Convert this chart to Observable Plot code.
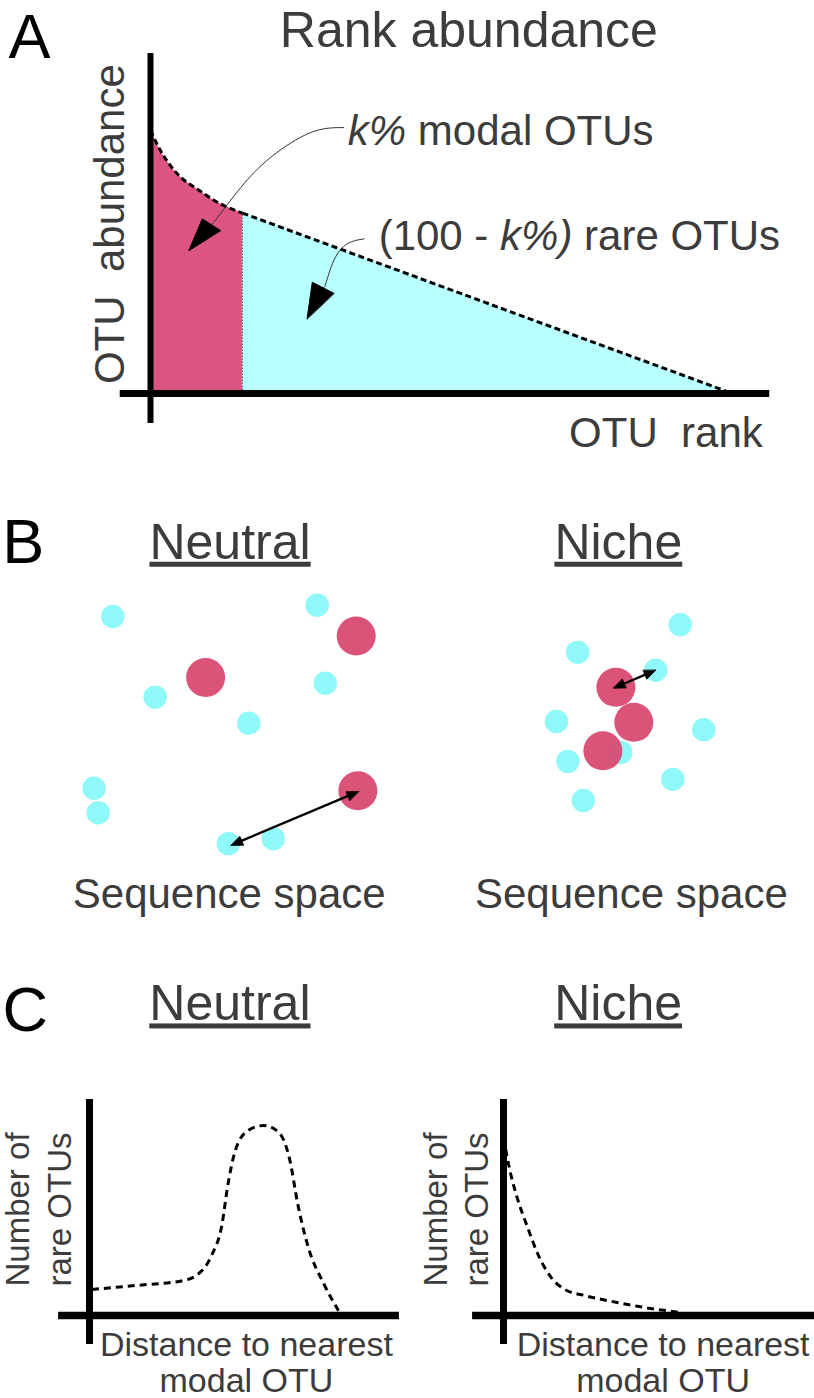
<!DOCTYPE html>
<html>
<head>
<meta charset="utf-8">
<script src="https://cdn.jsdelivr.net/npm/d3@7"></script>
<script src="https://cdn.jsdelivr.net/npm/@observablehq/plot@0.6"></script>
<style>
  body { margin: 0; background: #fff; }
  #fig { position: relative; width: 814px; height: 1398px; overflow: hidden; background: #fff; }
  #fig svg { position: absolute; }
  #fig text { white-space: pre; }
</style>
</head>
<body>
<div id="fig"></div>
<script>
// ---------------- Colours / fonts ----------------
const MAG_A = "#dc5580", CYAN_A = "#b9ffff";
const MAG_B = "#d9466f", CYAN_B = "#8ff8f8";
const INK = "#3c3c3c";
const FONT = "'Liberation Sans', Arial, sans-serif";

// ---------------- Panel A: rank abundance ----------------
const rankA  = [0, 1.7, 3.4, 5.2, 8.0, 11.5, 15.8, 100];        // OTU rank (%)
const abundA = [100, 92.4, 86.7, 82.2, 77.8, 72.7, 68.6, 0];    // OTU abundance (% of max)
const kRank = 15.8;                                              // boundary modal / rare

// annotation arrows (rank, abundance)
const arrowModalRank  = [33.2, 27.5, 20.6, 15.5, 11.5, 10.5];
const arrowModalAbund = [101.1, 99.2, 89.7, 78.3, 66.9, 64.3];
const headModalRank   = [6.6, 8.9, 12.0];
const headModalAbund  = [54.4, 66.4, 62.0];
const arrowRareRank   = [36.7, 33.8, 31.5, 30.1, 29.6];
const arrowRareAbund  = [58.8, 56.9, 50.6, 41.7, 40.2];
const headRareRank    = [26.9, 27.8, 31.5];
const headRareAbund   = [28.4, 42.3, 38.1];

// ---------------- Panel B: sequence space ----------------
const neutralRareX  = [13.8, 38.9, 19.0, 39.9, 30.5, 11.5, 12.0, 28.0, 33.5];
const neutralRareY  = [39.8, 41.2, 29.9, 31.6, 26.7, 18.7, 15.7, 11.9, 12.5];
const neutralModalX = [25.2, 43.7, 43.9];
const neutralModalY = [32.3, 37.4, 18.4];
const nicheRareX    = [83.5, 70.9, 80.5, 68.3, 86.4, 76.2, 69.7, 82.6, 71.6];
const nicheRareY    = [38.8, 35.4, 33.2, 26.9, 25.9, 23.1, 22.0, 19.8, 17.2];
const nicheModalX   = [75.6, 77.8, 74.0];
const nicheModalY   = [31.1, 26.8, 23.3];
const relAbundance  = {modal: 1, rare: 0.36};
// distance arrows: rare OTU -> nearest modal OTU
const distFromX = [28.3, 80.5], distFromY = [11.7, 33.2];
const distToX   = [44.0, 75.3], distToY   = [18.3, 31.0];

// ---------------- Panel C: distance distributions ----------------
const neutralDist  = [0.8, 15.5, 31.2, 36.3, 40.7, 44.2, 46.0, 48.6, 52.9, 58.1, 63.3, 66.8, 69.4, 72.9, 78.1, 83.3];
const neutralCount = [13.7, 15.8, 18.4, 21.9, 31.6, 48.2, 67.5, 86.8, 97.4, 100, 96, 81.6, 58.8, 36, 16.7, 1.7];
const nicheDist    = [0.7, 1.9, 4.5, 8.0, 11.4, 15.8, 20.1, 27.1, 37.5, 47.9, 58.4];
const nicheCount   = [87.7, 78, 62.3, 46.5, 32.5, 20.2, 14, 10.5, 7, 4, 1.7];

// ---------------- helpers ----------------
const zip = (xs, ys, extra = {}) => xs.map((x, i) => ({x, y: ys[i], ...extra}));
function txt(str, x, y, o = {}) {
  return Plot.text([str], {x: () => x, y: () => y, text: d => d, fontFamily: FONT, fill: INK,
    lineAnchor: "bottom", ...o});
}
function doubleArrow(id, fx, fy, tx, ty, len, half) {
  const dx = tx - fx, dy = ty - fy, L = Math.hypot(dx, dy);
  const ux = dx / L, uy = dy / L, px = -uy, py = ux;
  const shaft = [
    {id, x: fx + ux * len * 0.8, y: fy + uy * len * 0.8},
    {id, x: tx - ux * len * 0.8, y: ty - uy * len * 0.8}
  ];
  const heads = [
    {id: id + "t", x: tx, y: ty},
    {id: id + "t", x: tx - ux * len + px * half, y: ty - uy * len + py * half},
    {id: id + "t", x: tx - ux * len - px * half, y: ty - uy * len - py * half},
    {id: id + "f", x: fx, y: fy},
    {id: id + "f", x: fx + ux * len + px * half, y: fy + uy * len + py * half},
    {id: id + "f", x: fx + ux * len - px * half, y: fy + uy * len - py * half}
  ];
  return {shaft, heads};
}
function place(svg, left, top) {
  svg.style.position = "absolute";
  svg.style.left = left + "px";
  svg.style.top = top + "px";
  document.getElementById("fig").appendChild(svg);
  return svg;
}
function richText(svg, full, parts) {
  svg.querySelectorAll("text").forEach(t => {
    if (t.textContent !== full) return;
    t.textContent = "";
    for (const [s, it] of parts) {
      const sp = document.createElementNS("http://www.w3.org/2000/svg", "tspan");
      if (it) sp.setAttribute("font-style", "italic");
      sp.textContent = s;
      t.appendChild(sp);
    }
  });
}
function underline(svg, words) {
  svg.querySelectorAll("text").forEach(t => {
    if (words.includes(t.textContent)) t.style.textDecoration = "underline";
  });
}

// ---------------- Panel A plot ----------------
const curveA = zip(rankA, abundA);
const modalPart = curveA.filter(d => d.x <= kRank);
const rarePart = curveA.filter(d => d.x >= kRank);
const kAbund = abundA[rankA.indexOf(kRank)];
const arrowsA = [...zip(arrowModalRank, arrowModalAbund, {id: "m"}), ...zip(arrowRareRank, arrowRareAbund, {id: "r"})];
const headsA = [...zip(headModalRank, headModalAbund, {id: "m"}), ...zip(headRareRank, headRareAbund, {id: "r"})];

const svgA = Plot.plot({
  width: 814, height: 460,
  marginLeft: 150, marginRight: 82, marginTop: 130, marginBottom: 67,
  x: {domain: [0, 100], axis: null},
  y: {domain: [0, 100], axis: null},
  style: {background: "transparent", overflow: "visible"},
  marks: [
    Plot.areaY(modalPart, {x: "x", y: "y", fill: MAG_A, curve: "monotone-x"}),
    Plot.areaY(rarePart, {x: "x", y: "y", fill: CYAN_A}),
    Plot.ruleX([kRank], {y1: () => 0, y2: () => kAbund, stroke: "#555", strokeWidth: 1, strokeDasharray: "1.5,1.5"}),
    Plot.line(modalPart, {x: "x", y: "y", curve: "monotone-x", stroke: "black", strokeWidth: 3, strokeDasharray: "6,3.5", strokeLinecap: "butt"}),
    Plot.line(rarePart, {x: "x", y: "y", stroke: "black", strokeWidth: 3, strokeDasharray: "6,3.5", strokeLinecap: "butt"}),
    Plot.ruleX([0], {y1: () => -11.4, y2: () => 129.3, stroke: "black", strokeWidth: 6}),
    Plot.ruleY([0], {x1: () => -5.2, x2: () => 106.4, stroke: "black", strokeWidth: 7}),
    Plot.line(arrowsA, {x: "x", y: "y", z: "id", curve: "natural", stroke: "#333", strokeWidth: 1}),
    Plot.line(headsA, {x: "x", y: "y", z: "id", curve: "linear-closed", fill: "black", stroke: "black", strokeWidth: 1}),
    txt("A", -24.4, 127.4, {textAnchor: "start", fontSize: 63, fill: "black"}),
    txt("Rank abundance", 54.7, 131.6, {textAnchor: "middle", fontSize: 50}),
    txt("k% modal OTUs", 33.9, 94.3, {textAnchor: "start", fontSize: 42}),
    txt("(100 - k%) rare OTUs", 39.2, 54.4, {textAnchor: "start", fontSize: 42}),
    txt("OTU  rank", 105.2, -20.5, {textAnchor: "end", fontSize: 42}),
    txt("OTU  abundance", -4.6, 64.4, {textAnchor: "middle", fontSize: 42, rotate: -90})
  ]
});
richText(svgA, "k% modal OTUs", [["k%", true], [" modal OTUs", false]]);
richText(svgA, "(100 - k%) rare OTUs", [["(100 - ", false], ["k%)", true], [" rare OTUs", false]]);
place(svgA, 0, 0);

// ---------------- Panel B plot ----------------
const rareB = [...zip(neutralRareX, neutralRareY), ...zip(nicheRareX, nicheRareY)].map(d => ({...d, a: relAbundance.rare}));
const modalB = [...zip(neutralModalX, neutralModalY), ...zip(nicheModalX, nicheModalY)].map(d => ({...d, a: relAbundance.modal}));
const arrB = distFromX.map((fx, i) => doubleArrow("d" + i, fx, distFromY[i], distToX[i], distToY[i], 1.45, 0.58));

const svgB = Plot.plot({
  width: 814, height: 480, margin: 0,
  x: {domain: [0, 100], axis: null},
  y: {domain: [0, 480 / 8.14], axis: null},
  r: {type: "sqrt", domain: [0, 1], range: [0, 19.5]},
  style: {background: "transparent", overflow: "visible"},
  marks: [
    Plot.dot(rareB, {x: "x", y: "y", r: "a", fill: CYAN_B}),
    Plot.dot(modalB, {x: "x", y: "y", r: "a", fill: MAG_B, fillOpacity: 0.93}),
    Plot.line(arrB.flatMap(a => a.shaft), {x: "x", y: "y", z: "id", stroke: "black", strokeWidth: 2.4}),
    Plot.line(arrB.flatMap(a => a.heads), {x: "x", y: "y", z: "id", curve: "linear-closed", fill: "black", stroke: "black", strokeWidth: 0.8}),
    txt("B", 0.2, 46.4, {textAnchor: "start", fontSize: 63, fill: "black"}),
    txt("Neutral", 28.2, 46.9, {textAnchor: "middle", fontSize: 50}),
    txt("Niche", 75.9, 46.9, {textAnchor: "middle", fontSize: 50}),
    txt("Sequence space", 28.1, 4.05, {textAnchor: "middle", fontSize: 42}),
    txt("Sequence space", 77.5, 4.05, {textAnchor: "middle", fontSize: 42})
  ]
});
underline(svgB, ["Neutral", "Niche"]);
place(svgB, 0, 460);

// ---------------- Panel C plots ----------------
function panelC(dist, count, opts) {
  const data = zip(dist, count);
  const svg = Plot.plot({
    width: 407, height: 450,
    marginLeft: opts.ml, marginRight: 407 - opts.ml - 300, marginTop: 177, marginBottom: 83,
    x: {domain: [0, 100], axis: null},
    y: {domain: [0, 100], axis: null},
    style: {background: "transparent", overflow: "visible"},
    marks: [
      Plot.line(data, {x: "x", y: "y", curve: "monotone-x", stroke: "black", strokeWidth: 3, strokeDasharray: "7,5", strokeLinecap: "butt"}),
      Plot.ruleX([0], {y1: () => -15.3, y2: () => 113.7, stroke: "black", strokeWidth: 7}),
      Plot.ruleY([0], {x1: () => opts.axisFrom, x2: () => opts.axisTo, stroke: "black", strokeWidth: 7.5}),
      ...(opts.letter ? [txt(opts.letter, -29, 149.5, {textAnchor: "start", fontSize: 63, fill: "black"})] : []),
      txt(opts.title, opts.titleX, 155.3, {textAnchor: "middle", fontSize: 50}),
      txt("Number of\nrare OTUs", opts.yLabX, 55.8, {textAnchor: "middle", fontSize: 33, rotate: -90, lineHeight: 1.25}),
      txt("Distance to nearest\nmodal OTU", opts.xLabX, -8.2, {textAnchor: "middle", fontSize: 34, lineAnchor: "top", lineHeight: 1.04})
    ]
  });
  underline(svg, [opts.title]);
  return svg;
}
place(panelC(neutralDist, neutralCount, {ml: 89, axisFrom: -10.3, axisTo: 103.3, letter: "C", title: "Neutral", titleX: 46.8, yLabX: -6.3, xLabX: 52.3}), 0, 948);
place(panelC(nicheDist, nicheCount, {ml: 96, axisFrom: -10.3, axisTo: 103.7, letter: null, title: "Niche", titleX: 38.2, yLabX: -5.1, xLabX: 53.2}), 407, 948);
</script>
</body>
</html>
